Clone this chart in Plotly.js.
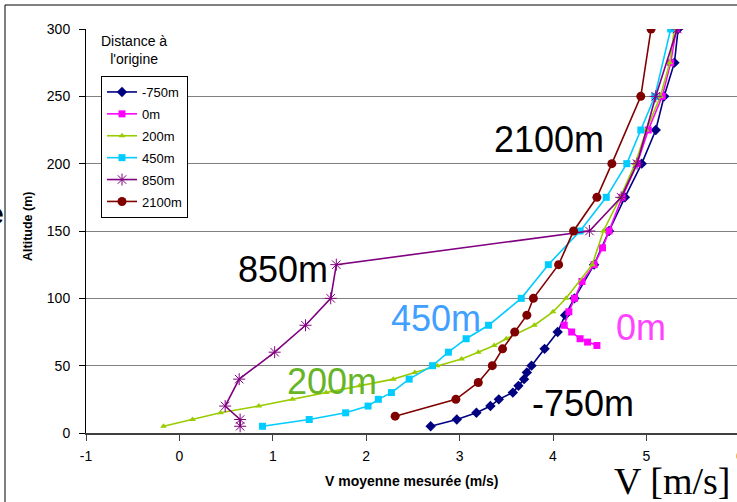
<!DOCTYPE html>
<html>
<head>
<meta charset="utf-8">
<script src="https://cdn.plot.ly/plotly-3.0.1.min.js"></script>
<style>html,body{margin:0;padding:0;background:#fff;}#chart{width:737px;height:502px;}</style>
</head>
<body>
<div id="chart"></div>
<script>
// ---- data ----
var seriesNames = ["-750m", "0m", "200m", "450m", "850m", "2100m"];

var altM750 = [5,10,15,20,25,30,35,40,45,50,62.5,75,87.5,100,125,150,175,200,225,250,275,300];
var velM750 = [2.69,2.97,3.18,3.33,3.42,3.57,3.63,3.69,3.72,3.77,3.91,4.05,4.13,4.23,4.44,4.60,4.77,4.95,5.10,5.19,5.30,5.34];

var alt0 = [65,67.5,70,75,80,90,100,112.5,125,137.5,150,175,200,225,250,275,300];
var vel0 = [4.47,4.37,4.29,4.20,4.12,4.17,4.23,4.31,4.44,4.53,4.60,4.74,4.90,5.02,5.17,5.26,5.32];

var alt200 = [5,10,15,20,25,30,35,40,45,50,55,60,65,70,80,90,100,125,150,175,200,225,250,275,300];
var vel200 = [-0.17,0.14,0.44,0.85,1.21,1.57,1.93,2.29,2.52,2.76,3.02,3.20,3.37,3.50,3.80,4.00,4.14,4.42,4.54,4.72,4.88,5.00,5.15,5.25,5.30];

var alt450 = [5,10,15,20,25,30,40,50,60,70,80,100,125,150,175,200,225,250,300];
var vel450 = [0.89,1.39,1.78,2.02,2.13,2.27,2.46,2.71,2.88,3.07,3.31,3.66,3.95,4.29,4.57,4.79,4.94,5.09,5.26];

var alt850 = [5,10,20,40,60,80,100,125,150,175,200,250,300];
var vel850 = [0.65,0.65,0.49,0.64,1.02,1.35,1.62,1.68,4.39,4.73,4.90,5.10,5.33];

var alt2100 = [12.5,25,37.5,50,62.5,75,87.5,100,125,150,175,200,250,300];
var vel2100 = [2.31,2.96,3.20,3.35,3.46,3.59,3.72,3.79,4.06,4.22,4.47,4.63,4.94,5.05];

var xTickVals = [-1,0,1,2,3,4,5];
var xTickText = ["-1","0","1","2","3","4","5"];
var yTickVals = [0,50,100,150,200,250,300];

// ---- styles ----
var colors = ["#000080","#FF00FF","#99CC00","#00CCFF","#800080","#800000"];
var symbols = ["diamond","square","triangle-up","square","asterisk-open","circle"];
var sizes = [8,7,6,7,10,9];
var xs = [velM750, vel0, vel200, vel450, vel850, vel2100];
var ys = [altM750, alt0, alt200, alt450, alt850, alt2100];

var traces = seriesNames.map(function(n, i){
  var mk = {symbol: symbols[i], size: sizes[i], color: colors[i]};
  if (symbols[i] === "asterisk-open") mk.line = {color: colors[i], width: 1};
  return {
    x: xs[i], y: ys[i], name: n, type: "scatter", mode: "lines+markers",
    line: {color: colors[i], width: 1.6}, marker: mk, legendgroup: "g" + i
  };
});

function px2x(px){ return (px - 86) / 651; }
function py2y(py){ return (433 - py) / 404; }

var fam = "Liberation Sans, Arial, sans-serif";
function lab(text, cx, cy, color){
  return {text: text, x: px2x(cx), y: py2y(cy), xref: "paper", yref: "paper",
    showarrow: false, xanchor: "center", yanchor: "middle",
    font: {family: fam, size: 36, color: color || "#000"}};
}

var annotations = [
  lab("2100m", 549, 139),
  lab("850m", 283, 269),
  lab("450m", 436, 318, "#3FA0FF"),
  lab("0m", 641, 327, "#FF44FF"),
  lab("200m", 332, 381, "#66B526"),
  lab("-750m", 583, 403),
  {text: "Distance à<br>l'origine", x: px2x(134), y: py2y(50), xref: "paper", yref: "paper",
   showarrow: false, xanchor: "center", yanchor: "middle", align: "center",
   font: {family: fam, size: 14, color: "#000"}},
  {text: "Altitude (m)", x: px2x(28), y: py2y(227), xref: "paper", yref: "paper", textangle: -90,
   showarrow: false, xanchor: "center", yanchor: "middle",
   font: {family: fam, size: 12.5, color: "#000", weight: "bold"}},
  {text: "V moyenne mesurée (m/s)", x: px2x(412), y: py2y(481), xref: "paper", yref: "paper",
   showarrow: false, xanchor: "center", yanchor: "middle",
   font: {family: fam, size: 14, color: "#000", weight: "bold"}},
  {text: "V [m/s]", x: px2x(672), y: py2y(481), xref: "paper", yref: "paper",
   showarrow: false, xanchor: "center", yanchor: "middle",
   font: {family: "Liberation Serif, Times New Roman, serif", size: 38, color: "#000"}},
  {text: "6", x: px2x(740), y: py2y(456), xref: "paper", yref: "paper",
   showarrow: false, xanchor: "center", yanchor: "middle",
   font: {family: fam, size: 14, color: "#000"}},
  {text: "e", x: px2x(-4), y: py2y(214), xref: "paper", yref: "paper",
   showarrow: false, xanchor: "center", yanchor: "middle",
   font: {family: fam, size: 30, color: "#000", weight: "bold"}}
];

var shapes = [
  {type: "line", xref: "paper", yref: "paper", x0: px2x(5), x1: px2x(5), y0: py2y(5), y1: py2y(510), line: {color: "#000", width: 1}},
  {type: "line", xref: "paper", yref: "paper", x0: px2x(5), x1: px2x(745), y0: py2y(5), y1: py2y(5), line: {color: "#000", width: 1}}
];

var layout = {
  width: 737, height: 502,
  margin: {l: 86, r: 0, t: 29, b: 69},
  paper_bgcolor: "#fff", plot_bgcolor: "#fff",
  showlegend: true,
  legend: {x: px2x(101), y: py2y(76), xanchor: "left", yanchor: "top",
    bgcolor: "#fff", bordercolor: "#000", borderwidth: 1,
    font: {family: fam, size: 13, color: "#000"},
    itemwidth: 30, tracegroupgap: 2},
  xaxis: {range: [-1, 5.97], tickvals: xTickVals, ticktext: xTickText, ticks: "outside", ticklen: 6, tickcolor: "#404040",
    showline: true, linecolor: "#404040", linewidth: 2, showgrid: false, zeroline: false,
    tickfont: {family: fam, size: 14, color: "#000"}, ticklabelstandoff: 3},
  yaxis: {range: [0, 300], tickvals: yTickVals, ticks: "outside", ticklen: 6, tickcolor: "#000",
    showline: true, linecolor: "#000", linewidth: 1, showgrid: true, gridcolor: "#808080", gridwidth: 1,
    zeroline: false,
    tickfont: {family: fam, size: 14, color: "#000"}, ticklabelstandoff: 6},
  annotations: annotations,
  shapes: shapes
};

Plotly.newPlot("chart", traces, layout, {displayModeBar: false, staticPlot: true});
</script>
</body>
</html>
